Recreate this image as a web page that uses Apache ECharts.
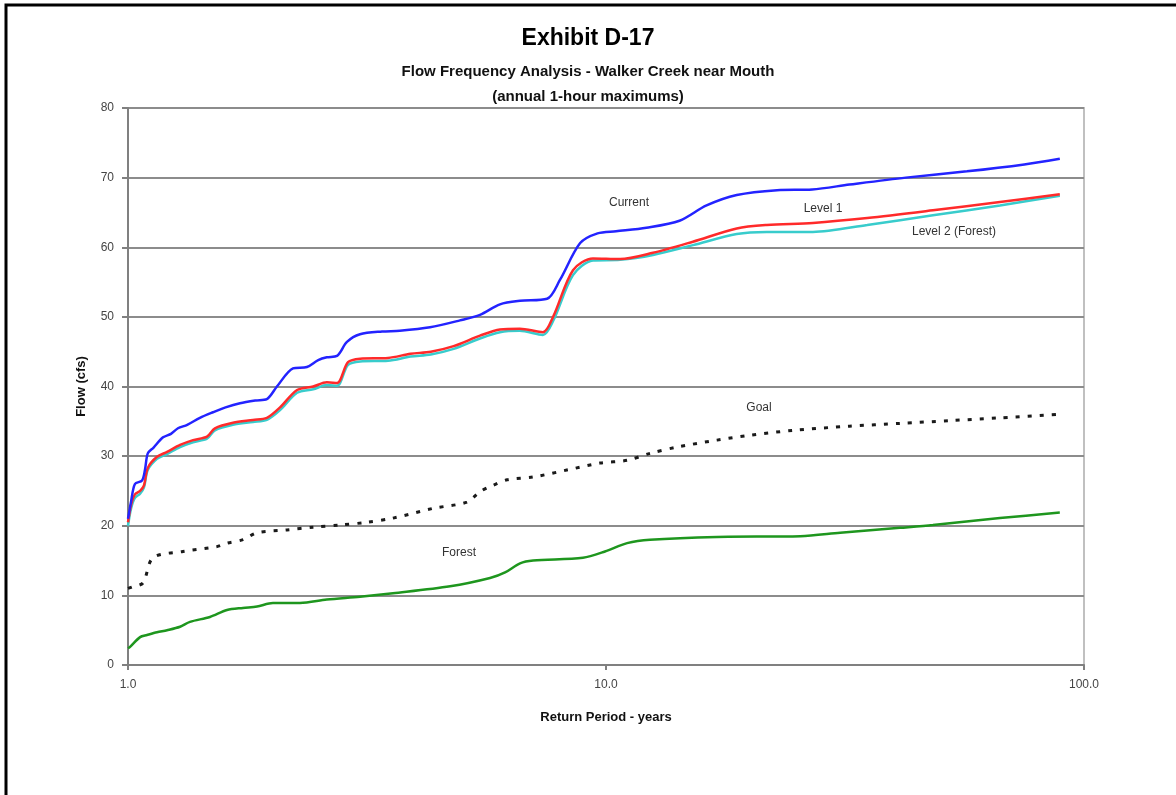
<!DOCTYPE html>
<html>
<head>
<meta charset="utf-8">
<script src="https://cdn.jsdelivr.net/npm/echarts@6/dist/echarts.min.js"></script>
<style>
  html, body { margin: 0; padding: 0; background: #fff; }
  #chart { width: 1176px; height: 795px; }
</style>
</head>
<body>
<div id="chart"></div>
<script>
// return period (years), flow (cfs)
const currentFlow = [
  [1.0, 21], [1.015, 23.5], [1.034, 26], [1.07, 26.5], [1.085, 28], [1.10, 30.4], [1.13, 31.2],
  [1.184, 32.7], [1.23, 33.2], [1.272, 34], [1.33, 34.5], [1.414, 35.5], [1.506, 36.3], [1.6, 37],
  [1.715, 37.6], [1.85, 38], [1.952, 38.2], [2.049, 40], [2.214, 42.6], [2.368, 42.8], [2.5, 43.8],
  [2.606, 44.2], [2.737, 44.4], [2.871, 46.4], [3.057, 47.5], [3.4, 47.9], [3.704, 48], [4.285, 48.5],
  [4.95, 49.5], [5.45, 50.3], [6.0, 51.8], [6.61, 52.3], [7.53, 52.6], [8.01, 55.3], [8.83, 60.6],
  [9.6, 62], [10.5, 62.3], [12.15, 62.8], [14.25, 63.8], [16.23, 66], [18.77, 67.5], [22.8, 68.2],
  [27.0, 68.3], [32.3, 69], [42.4, 70], [56.9, 70.9], [75, 71.9], [89, 72.7]
];
const level1Flow = [
  [1.0, 20.5], [1.015, 23], [1.034, 24.5], [1.06, 25], [1.08, 25.8], [1.10, 28.3], [1.15, 29.9],
  [1.207, 30.6], [1.285, 31.6], [1.368, 32.3], [1.463, 32.8], [1.52, 34], [1.658, 34.8], [1.826, 35.2],
  [1.952, 35.5], [2.08, 37], [2.258, 39.5], [2.44, 40], [2.606, 40.6], [2.737, 40.5], [2.886, 43.5],
  [3.06, 44], [3.5, 44.1], [3.9, 44.7], [4.3, 45], [4.8, 45.8], [5.45, 47.3], [6.0, 48.2], [6.6, 48.3],
  [7.38, 47.8], [7.75, 50], [8.53, 56.7], [9.39, 58.4], [10.7, 58.3], [12.54, 59.2], [15.2, 60.8],
  [18.77, 62.7], [21.7, 63.2], [27.1, 63.5], [35.2, 64.2], [48.3, 65.3], [66.7, 66.5], [89, 67.6]
];
const level2Flow = [
  [1.0, 20], [1.015, 22.5], [1.034, 24], [1.06, 24.6], [1.08, 25.5], [1.10, 28], [1.15, 29.6],
  [1.207, 30.3], [1.285, 31.3], [1.368, 32], [1.463, 32.5], [1.52, 33.7], [1.658, 34.5], [1.826, 34.9],
  [1.952, 35.2], [2.08, 36.6], [2.258, 39.1], [2.44, 39.6], [2.606, 40.2], [2.737, 40.1], [2.886, 43.1],
  [3.06, 43.6], [3.5, 43.7], [3.9, 44.3], [4.3, 44.6], [4.8, 45.4], [5.45, 46.9], [6.0, 47.8], [6.6, 48],
  [7.38, 47.4], [7.75, 49.4], [8.53, 56], [9.39, 58.1], [10.7, 58.2], [12.54, 58.9], [15.2, 60.3],
  [18.77, 61.9], [21.7, 62.2], [27.1, 62.2], [35.2, 63.2], [48.3, 64.6], [66.7, 66], [89, 67.4]
];
const goalFlow = [
  [1.0, 11], [1.019, 11.2], [1.075, 11.8], [1.128, 15.4], [1.303, 16.3], [1.535, 17], [1.611, 17.5],
  [1.74, 18], [1.862, 19], [2.15, 19.4], [2.44, 19.8], [2.777, 20.1], [3.16, 20.5], [3.585, 21.1],
  [4.35, 22.5], [5.12, 23.4], [5.45, 24.9], [5.80, 25.8], [6.21, 26.6], [7.04, 27], [8.28, 28],
  [9.71, 29], [11.07, 29.4], [12.36, 30.4], [14.08, 31.3], [17.07, 32.3], [20.0, 33], [24.6, 33.7],
  [32.3, 34.3], [41.2, 34.7], [52.5, 35.1], [66.7, 35.5], [89, 36]
];
const forestFlow = [
  [1.0, 2.4], [1.01, 2.6], [1.06, 4], [1.096, 4.3], [1.15, 4.7], [1.207, 5.0], [1.285, 5.5],
  [1.348, 6.2], [1.484, 6.9], [1.611, 7.9], [1.74, 8.2], [1.862, 8.4], [2.01, 8.9], [2.29, 8.9],
  [2.606, 9.4], [3.057, 9.8], [3.585, 10.3], [4.72, 11.3], [5.72, 12.5], [6.15, 13.3], [6.61, 14.6],
  [7.04, 15.0], [8.95, 15.4], [9.95, 16.3], [11.07, 17.5], [12.36, 18.0], [17.07, 18.4], [25.5, 18.5],
  [30.9, 19], [41.2, 19.7], [48.3, 20.1], [66.7, 21.1], [89, 21.9]
];

const FONT = 'Liberation Sans, Arial, sans-serif';

const chart = echarts.init(document.getElementById('chart'));

function line(name, data, color, extra) {
  return Object.assign({
    name: name,
    type: 'line',
    data: data,
    symbol: 'none',
    smooth: 0.3,
    lineStyle: { color: color, width: 2.5 },
    z: 3
  }, extra || {});
}

chart.setOption({
  animation: false,
  backgroundColor: '#fff',
  title: [
    { text: 'Exhibit D-17', left: 'center', top: 22,
      textStyle: { fontFamily: FONT, fontSize: 23, fontWeight: 'bold', color: '#000' } },
    { text: 'Flow Frequency Analysis - Walker Creek near Mouth', left: 'center', top: 59,
      textStyle: { fontFamily: FONT, fontSize: 15, fontWeight: 'bold', color: '#111' } },
    { text: '(annual 1-hour maximums)', left: 'center', top: 84,
      textStyle: { fontFamily: FONT, fontSize: 15, fontWeight: 'bold', color: '#111' } }
  ],
  grid: {
    left: 128, right: 92, top: 108, bottom: 130,
    show: true, borderColor: '#c0c0c0', borderWidth: 2
  },
  xAxis: {
    type: 'log', logBase: 10, min: 1, max: 100,
    name: 'Return Period - years', nameLocation: 'middle', nameGap: 46,
    nameTextStyle: { fontFamily: FONT, fontSize: 13, fontWeight: 'bold', color: '#111' },
    axisLine: { lineStyle: { color: '#808080', width: 2 } },
    axisTick: { show: true, length: 5, lineStyle: { color: '#808080', width: 2 } },
    minorTick: { show: false },
    splitLine: { show: false },
    axisLabel: {
      fontFamily: FONT, fontSize: 12, color: '#444', margin: 14,
      formatter: v => v.toFixed(1)
    }
  },
  yAxis: {
    type: 'value', min: 0, max: 80, interval: 10,
    name: 'Flow (cfs)', nameLocation: 'middle', nameGap: 40, nameRotate: 90,
    nameTextStyle: { fontFamily: FONT, fontSize: 13, fontWeight: 'bold', color: '#111' },
    axisLine: { show: true, lineStyle: { color: '#808080', width: 2 } },
    axisTick: { show: true, length: 6, lineStyle: { color: '#808080', width: 2 } },
    splitLine: { show: true, lineStyle: { color: '#8c8c8c', width: 2 } },
    axisLabel: { fontFamily: FONT, fontSize: 12, color: '#444', margin: 14 }
  },
  series: [
    line('Forest', forestFlow, '#1e961e'),
    line('Goal', goalFlow, '#1a1a1a', {
      lineStyle: { color: '#1a1a1a', width: 3, type: [4, 8] }, smooth: 0.3
    }),
    line('Level 2 (Forest)', level2Flow, '#38cccc'),
    line('Level 1', level1Flow, '#ff2a2a'),
    line('Current', currentFlow, '#2323ff')
  ],
  graphic: [
    { type: 'rect', silent: true, z: 100,
      shape: { x: 6, y: 5, width: 1200, height: 820 },
      style: { fill: 'none', stroke: '#000', lineWidth: 3 } },
    { type: 'text', x: 629, y: 203, style: { text: 'Current', fontFamily: FONT, fontSize: 12, fill: '#333', align: 'center', verticalAlign: 'middle' } },
    { type: 'text', x: 823, y: 209, style: { text: 'Level 1', fontFamily: FONT, fontSize: 12, fill: '#333', align: 'center', verticalAlign: 'middle' } },
    { type: 'text', x: 954, y: 232, style: { text: 'Level 2 (Forest)', fontFamily: FONT, fontSize: 12, fill: '#333', align: 'center', verticalAlign: 'middle' } },
    { type: 'text', x: 759, y: 408, style: { text: 'Goal', fontFamily: FONT, fontSize: 12, fill: '#333', align: 'center', verticalAlign: 'middle' } },
    { type: 'text', x: 459, y: 553, style: { text: 'Forest', fontFamily: FONT, fontSize: 12, fill: '#333', align: 'center', verticalAlign: 'middle' } }
  ]
});
</script>
</body>
</html>
